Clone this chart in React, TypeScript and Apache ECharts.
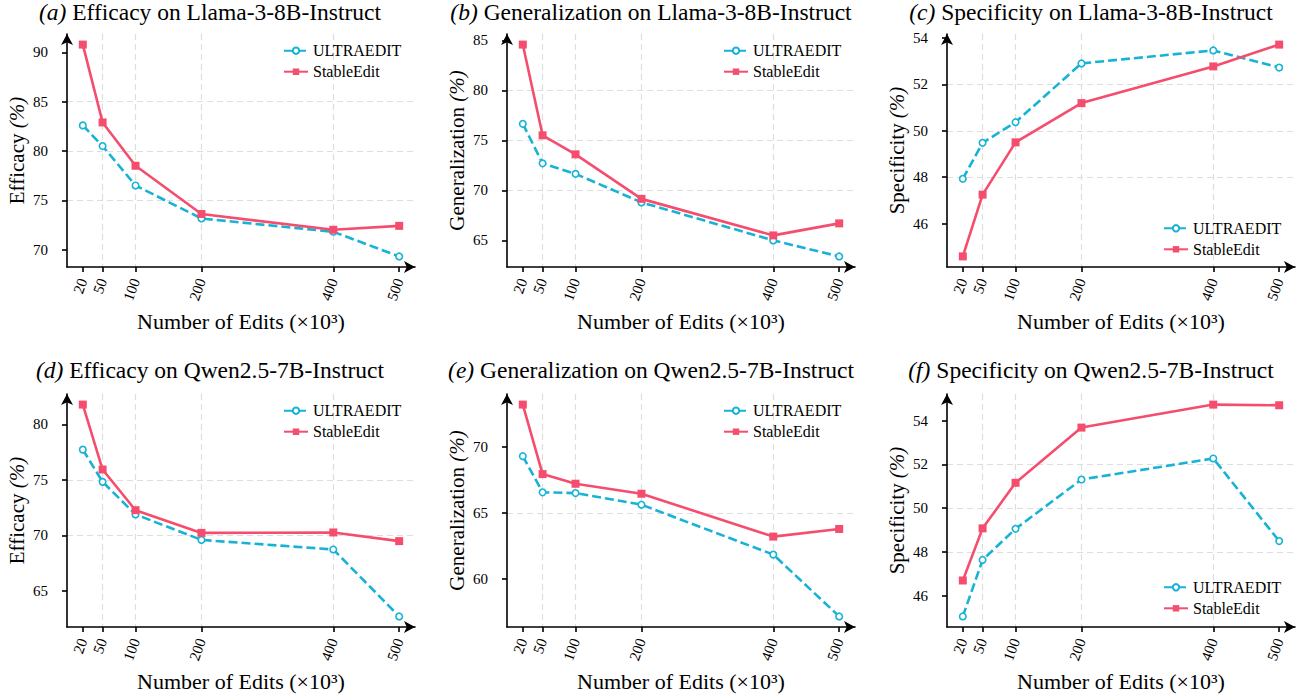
import React, { useEffect, useRef } from 'react';
import * as echarts from 'echarts';

// ---------- data ----------
const editCounts = [20, 50, 100, 200, 400, 500];
const seriesNames = ['ULTRAEDIT', 'StableEdit'];

const llamaEfficacyUltra = [82.6, 80.5, 76.5, 73.15, 71.8, 69.3];
const llamaEfficacyStable = [90.8, 82.9, 78.5, 73.6, 72.0, 72.4];
const llamaGeneralUltra = [76.65, 72.7, 71.65, 68.8, 65.0, 63.4];
const llamaGeneralStable = [84.57, 75.5, 73.6, 69.15, 65.5, 66.7];
const llamaSpecUltra = [47.93, 49.48, 50.37, 52.9, 53.46, 52.72];
const llamaSpecStable = [44.59, 47.25, 49.5, 51.19, 52.77, 53.71];

const qwenEfficacyUltra = [77.72, 74.82, 71.89, 69.6, 68.74, 62.72];
const qwenEfficacyStable = [81.77, 75.93, 72.27, 70.23, 70.27, 69.49];
const qwenGeneralUltra = [69.32, 66.58, 66.52, 65.64, 61.86, 57.17];
const qwenGeneralStable = [73.23, 67.96, 67.23, 66.47, 63.22, 63.8];
const qwenSpecUltra = [45.06, 47.64, 49.06, 51.31, 52.27, 48.5];
const qwenSpecStable = [46.7, 49.08, 51.16, 53.68, 54.73, 54.7];

const ticksA = [70, 75, 80, 85, 90];
const ticksB = [65, 70, 75, 80, 85];
const ticksC = [46, 48, 50, 52, 54];
const ticksD = [65, 70, 75, 80];
const ticksE = [60, 65, 70];
const ticksF = [46, 48, 50, 52, 54];

const panels = [
  { tag: '(a)', title: 'Efficacy on Llama-3-8B-Instruct', yName: 'Efficacy', ultra: llamaEfficacyUltra, stable: llamaEfficacyStable, ticks: ticksA, interval: 5, legendLow: false },
  { tag: '(b)', title: 'Generalization on Llama-3-8B-Instruct', yName: 'Generalization', ultra: llamaGeneralUltra, stable: llamaGeneralStable, ticks: ticksB, interval: 5, legendLow: false },
  { tag: '(c)', title: 'Specificity on Llama-3-8B-Instruct', yName: 'Specificity', ultra: llamaSpecUltra, stable: llamaSpecStable, ticks: ticksC, interval: 2, legendLow: true },
  { tag: '(d)', title: 'Efficacy on Qwen2.5-7B-Instruct', yName: 'Efficacy', ultra: qwenEfficacyUltra, stable: qwenEfficacyStable, ticks: ticksD, interval: 5, legendLow: false },
  { tag: '(e)', title: 'Generalization on Qwen2.5-7B-Instruct', yName: 'Generalization', ultra: qwenGeneralUltra, stable: qwenGeneralStable, ticks: ticksE, interval: 5, legendLow: false },
  { tag: '(f)', title: 'Specificity on Qwen2.5-7B-Instruct', yName: 'Specificity', ultra: qwenSpecUltra, stable: qwenSpecStable, ticks: ticksF, interval: 2, legendLow: true },
];

// ---------- style / layout ----------
const FONT = '"Liberation Serif", "Times New Roman", "DejaVu Serif", serif';
const RED = '#f54d6e';
const CYAN = '#17b3d6';
const GRID_COLOR = '#dedede';

const COL_LEFT = [67, 507, 947];
const ROW_TOP = [34, 394];
const GRID_W = 348;
const GRID_H = 233;
const TITLE_X = [210, 651, 1091];
const TITLE_Y = [12, 369.5];
const LEGEND_LEFT = [283, 723, 1163];
const LEGEND_TOP_HIGH = [42.7, 402.7];
const LEGEND_TOP_LOW = [220.3, 579.3];

function padExtent(vals: number[]) {
  const lo = Math.min(...vals);
  const hi = Math.max(...vals);
  const m = (hi - lo) * 0.05;
  return [lo - m, hi + m];
}

function buildOption() {
  const [xMin, xMax] = padExtent(editCounts);
  const axisLineStyle = { color: '#000', width: 1.6 };
  const splitLine = {
    show: true,
    showMinLine: false,
    showMaxLine: false,
    lineStyle: { color: GRID_COLOR, type: [6, 4], width: 1.2 },
  };

  const grid: any[] = [];
  const xAxis: any[] = [];
  const yAxis: any[] = [];
  const series: any[] = [];
  const legend: any[] = [];
  const graphic: any[] = [];

  panels.forEach((p, i) => {
    const col = i % 3;
    const row = Math.floor(i / 3);
    grid.push({ left: COL_LEFT[col], top: ROW_TOP[row], width: GRID_W, height: GRID_H });
    xAxis.push({
      type: 'value',
      gridIndex: i,
      min: xMin,
      max: xMax,
      name: 'Number of Edits (×10³)',
      nameLocation: 'middle',
      nameGap: 43,
      nameTextStyle: { fontSize: 22, fontFamily: FONT, color: '#000' },
      axisLine: { show: true, onZero: false, symbol: ['none', 'arrow'], symbolSize: [9, 11], lineStyle: axisLineStyle },
      axisTick: { show: true, length: 5, customValues: editCounts, lineStyle: axisLineStyle },
      axisLabel: { customValues: editCounts, rotate: 70, margin: 12, fontSize: 15, fontFamily: FONT, color: '#000' },
      splitLine,
    });
    const [yMin, yMax] = padExtent([...p.ultra, ...p.stable]);
    yAxis.push({
      type: 'value',
      gridIndex: i,
      min: yMin,
      max: yMax,
      minInterval: p.interval,
      maxInterval: p.interval,
      name: p.yName + ' {i|(%)}',
      nameLocation: 'middle',
      nameGap: 40,
      nameTextStyle: {
        fontSize: 21,
        fontFamily: FONT,
        color: '#000',
        rich: { i: { fontStyle: 'italic', fontSize: 21, fontFamily: FONT, color: '#000' } },
      },
      axisLine: { show: true, onZero: false, symbol: ['none', 'arrow'], symbolSize: [9, 11], lineStyle: axisLineStyle },
      axisTick: { show: true, length: 5, customValues: p.ticks, lineStyle: axisLineStyle },
      axisLabel: { customValues: p.ticks, margin: 19, fontSize: 15, fontFamily: FONT, color: '#000' },
      splitLine,
    });
    series.push({
      type: 'line',
      name: seriesNames[0],
      xAxisIndex: i,
      yAxisIndex: i,
      data: editCounts.map((x, j) => [x, p.ultra[j]]),
      symbol: 'circle',
      symbolSize: 6.5,
      showSymbol: true,
      lineStyle: { color: CYAN, width: 2.6, type: [9, 4] },
      itemStyle: { color: '#fff', borderColor: CYAN, borderWidth: 1.6 },
      z: 3,
    });
    series.push({
      type: 'line',
      name: seriesNames[1],
      xAxisIndex: i,
      yAxisIndex: i,
      data: editCounts.map((x, j) => [x, p.stable[j]]),
      symbol: 'rect',
      symbolSize: 8,
      showSymbol: true,
      lineStyle: { color: RED, width: 2.6, type: 'solid' },
      itemStyle: { color: RED },
      z: 4,
    });
    legend.push({
      data: seriesNames,
      orient: 'vertical',
      left: LEGEND_LEFT[col],
      top: p.legendLow ? LEGEND_TOP_LOW[row] : LEGEND_TOP_HIGH[row],
      padding: 0,
      itemWidth: 24,
      itemHeight: 8,
      itemGap: 5,
      selectedMode: false,
      textStyle: { fontSize: 16, fontFamily: FONT, color: '#000' },
    });
    graphic.push({
      type: 'text',
      x: TITLE_X[col],
      y: TITLE_Y[row],
      style: {
        text: '{it|' + p.tag + '} ' + p.title,
        fontSize: 23.5,
        fontFamily: FONT,
        fill: '#000',
        align: 'center',
        verticalAlign: 'middle',
        rich: { it: { fontStyle: 'italic', fontSize: 23.5, fontFamily: FONT, fill: '#000', color: '#000' } },
      },
    });
  });

  return {
    animation: false,
    backgroundColor: '#fff',
    textStyle: { fontFamily: FONT },
    grid,
    xAxis,
    yAxis,
    series,
    legend,
    graphic,
  };
}

export default function App() {
  const ref = useRef<HTMLDivElement>(null);
  useEffect(() => {
    if (!ref.current) return;
    const chart = echarts.init(ref.current, null, { renderer: 'svg' });
    chart.setOption(buildOption() as any);
    return () => chart.dispose();
  }, []);
  return (
    <div
      ref={ref}
      style={{ position: 'fixed', left: 0, top: 0, width: 1307, height: 698, background: '#fff' }}
    />
  );
}
